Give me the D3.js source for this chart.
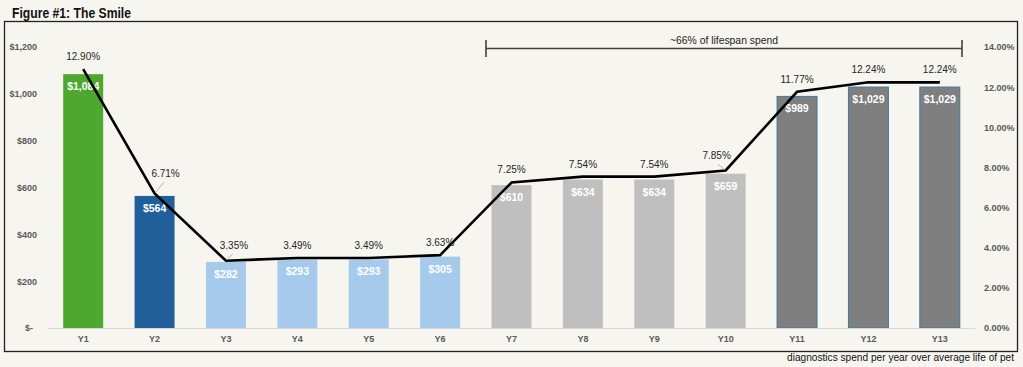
<!DOCTYPE html>
<html><head><meta charset="utf-8">
<script src="https://cdn.jsdelivr.net/npm/d3@7"></script>
<style>
html,body{margin:0;padding:0;background:#f7f5f0;}
svg{display:block;}
</style></head>
<body>
<svg id="chart" width="1023" height="367"></svg>
<script>
const categories = ["Y1","Y2","Y3","Y4","Y5","Y6","Y7","Y8","Y9","Y10","Y11","Y12","Y13"];
const spend = [1084,564,282,293,293,305,610,634,634,659,989,1029,1029];
const spendLabels = ["$1,084","$564","$282","$293","$293","$305","$610","$634","$634","$659","$989","$1,029","$1,029"];
const share = [12.90,6.71,3.35,3.49,3.49,3.63,7.25,7.54,7.54,7.85,11.77,12.24,12.24];
const barColors = ["#4ea72e","#215f9a","#a6caec","#a6caec","#a6caec","#a6caec","#bfbfbf","#bfbfbf","#bfbfbf","#bfbfbf","#7f7f7f","#7f7f7f","#7f7f7f"];
const leftTicks = [0,200,400,600,800,1000,1200];
const rightTicks = [0,2,4,6,8,10,12,14];
const title = "Figure #1: The Smile";
const bracketText = "~66% of lifespan spend";
const caption = "diagnostics spend per year over average life of pet";

const svg = d3.select("#chart");
const W = 1023, H = 367;
svg.append("rect").attr("width",W).attr("height",H).attr("fill","#f7f5f0");

const sans = "'Liberation Sans',Arial,sans-serif";

svg.append("text").attr("x",12).attr("y",18).text(title)
  .attr("font-family",sans).attr("font-weight","bold").attr("font-size",14).attr("fill","#111")
  .attr("textLength",119).attr("lengthAdjust","spacingAndGlyphs");

svg.append("rect").attr("x",4.5).attr("y",21.5).attr("width",1013).attr("height",330)
  .attr("fill","#f7f5f0").attr("stroke","#222").attr("stroke-width",1.3);

const x = d3.scaleBand().domain(categories).range([47.5,975.5]).paddingInner(0.44).paddingOuter(0.22);
const y = d3.scaleLinear().domain([0,1200]).range([328,47]);
const y2 = d3.scaleLinear().domain([0,14]).range([328,47]);

// left axis
const leftAxis = d3.axisLeft(y).tickValues(leftTicks).tickSize(0).tickPadding(0)
  .tickFormat(d => d===0 ? "$-" : "$" + d3.format(",")(d));
const gl = svg.append("g").attr("transform","translate(37,0)").call(leftAxis);
gl.select(".domain").remove();
gl.selectAll("text").attr("font-family",sans).attr("font-weight","bold").attr("font-size",9).attr("fill","#595959");
gl.selectAll(".tick").filter(d=>d===0).select("text").attr("x",-4);

// right axis
const rightAxis = d3.axisRight(y2).tickValues(rightTicks).tickSize(0).tickPadding(0)
  .tickFormat(d => d.toFixed(2)+"%");
const gr = svg.append("g").attr("transform","translate(984,0)").call(rightAxis);
gr.select(".domain").remove();
gr.selectAll("text").attr("font-family",sans).attr("font-weight","bold").attr("font-size",9).attr("fill","#595959");

// bars
const data = categories.map((c,i)=>({c, v:spend[i], lab:spendLabels[i], p:share[i], col:barColors[i], i}));
svg.append("g").selectAll("rect").data(data).join("rect")
  .attr("x",d=>x(d.c)).attr("width",x.bandwidth())
  .attr("y",d=>y(d.v)).attr("height",d=>y(0)-y(d.v))
  .attr("fill",d=>d.col)
  .attr("stroke",d=>d.i>=10 ? "#3f7a9e" : "none").attr("stroke-width",1);

// baseline
svg.append("line").attr("x1",47.5).attr("x2",975.5).attr("y1",328.5).attr("y2",328.5)
  .attr("stroke","#d9d9d9").attr("stroke-width",1);

// bottom axis labels
const bottomAxis = d3.axisBottom(x).tickSize(0).tickPadding(0);
const gb = svg.append("g").attr("transform","translate(0,336)").call(bottomAxis);
gb.select(".domain").remove();
gb.selectAll("text").attr("font-family",sans).attr("font-weight","bold").attr("font-size",9).attr("fill","#595959");

// bar labels
svg.append("g").selectAll("text").data(data).join("text")
  .attr("x",d=>x(d.c)+x.bandwidth()/2).attr("y",d=>y(d.v)+16)
  .attr("text-anchor","middle").text(d=>d.lab)
  .attr("font-family",sans).attr("font-weight","bold").attr("font-size",10.5).attr("fill","#ffffff");

// line
const cx = d=>x(d.c)+x.bandwidth()/2;
svg.append("path").datum(data)
  .attr("d", d3.line().x(cx).y(d=>y2(d.p)))
  .attr("fill","none").attr("stroke","#000").attr("stroke-width",2.6).attr("stroke-linejoin","miter");

// percent labels (label offsets; those with leader lines listed)
const offs = {1:[11,-16],2:[8,-12],9:[-9,-11]};
const pl = svg.append("g");
data.forEach(d=>{
  const o = offs[d.i] || [0,-9];
  const px = cx(d), py = y2(d.p);
  if (offs[d.i]) {
    const ex = px + o[0]*0.85, ey = py + o[1] + 5;
    pl.append("line").attr("x1",px + (o[0]>0?1:-1)).attr("y1",py-1)
      .attr("x2",ex).attr("y2",ey)
      .attr("stroke","#a6a6a6").attr("stroke-width",0.8);
  }
  pl.append("text").attr("x",px+o[0]).attr("y",py+o[1]).attr("text-anchor","middle")
    .text(d.p.toFixed(2)+"%")
    .attr("font-family",sans).attr("font-size",10).attr("fill","#262626");
});

// bracket
const bx1 = 486, bx2 = 962, by = 48.5;
const br = svg.append("g").attr("stroke","#404040").attr("stroke-width",1.6);
br.append("line").attr("x1",bx1).attr("x2",bx2).attr("y1",by).attr("y2",by);
br.append("line").attr("x1",bx1).attr("x2",bx1).attr("y1",40).attr("y2",57);
br.append("line").attr("x1",bx2).attr("x2",bx2).attr("y1",40).attr("y2",57);
svg.append("text").attr("x",(bx1+bx2)/2).attr("y",44).attr("text-anchor","middle")
  .text(bracketText).attr("font-family",sans).attr("font-size",11).attr("fill","#222")
  .attr("textLength",108).attr("lengthAdjust","spacingAndGlyphs");

// caption
svg.append("text").attr("x",1014).attr("y",361).attr("text-anchor","end").text(caption)
  .attr("font-family",sans).attr("font-size",11).attr("fill","#111")
  .attr("textLength",227).attr("lengthAdjust","spacingAndGlyphs");
</script>
</body></html>
